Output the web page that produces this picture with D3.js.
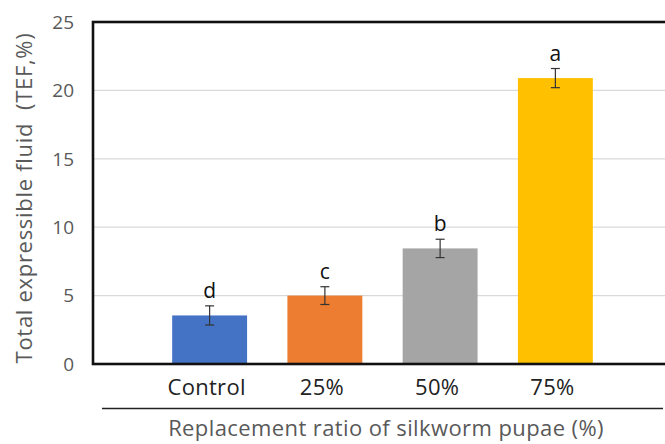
<!DOCTYPE html>
<html>
<head>
<meta charset="utf-8">
<script src="https://cdn.jsdelivr.net/npm/d3@7"></script>
<style>
  body { margin: 0; background: #fff; }
  svg { display: block; }
</style>
</head>
<body>
<div id="chart"></div>
<script>
// data
var categories = ["Control", "25%", "50%", "75%"];
var values = [3.55, 5.0, 8.45, 20.9];
var errors = [0.7, 0.65, 0.67, 0.7];
var letters = ["d", "c", "b", "a"];
var yTicks = [0, 5, 10, 15, 20, 25];
var colors = ["#4472C4", "#ED7D31", "#A5A5A5", "#FFC000"];

var width = 665, height = 444;
var frame = { left: 93, top: 22, right: 690, bottom: 364 };
var font = "Open Sans, sans-serif";

var svg = d3.select("#chart").append("svg")
    .attr("width", width)
    .attr("height", height);

var y = d3.scaleLinear()
    .domain([0, 25])
    .range([frame.bottom, frame.top]);

var x = d3.scaleBand()
    .domain(categories)
    .range([152, 613])
    .paddingInner(0.35)
    .paddingOuter(0.175);

// gridlines
svg.append("g")
    .selectAll("line")
    .data(yTicks.filter(d => d > 0 && d < 25))
    .join("line")
    .attr("x1", frame.left)
    .attr("x2", width)
    .attr("y1", d => y(d))
    .attr("y2", d => y(d))
    .attr("stroke", "#d9d9d9")
    .attr("stroke-width", 1.2);

// y tick labels
svg.append("g")
    .selectAll("text")
    .data(yTicks)
    .join("text")
    .attr("x", 74)
    .attr("y", d => y(d))
    .attr("dy", "0.36em")
    .attr("text-anchor", "end")
    .attr("font-family", font)
    .attr("font-size", 19)
    .attr("fill", "#595959")
    .text(d => d);

// bars
svg.append("g")
    .selectAll("rect")
    .data(categories)
    .join("rect")
    .attr("x", d => x(d))
    .attr("width", x.bandwidth())
    .attr("y", (d, i) => y(values[i]))
    .attr("height", (d, i) => y(0) - y(values[i]))
    .attr("fill", (d, i) => colors[i]);

// error bars
var eb = svg.append("g")
    .attr("stroke", "#333")
    .attr("stroke-width", 1.2);

categories.forEach(function(c, i) {
    var cx = x(c) + x.bandwidth() / 2;
    var top = y(values[i] + errors[i]), bot = y(values[i] - errors[i]);
    eb.append("line").attr("x1", cx).attr("x2", cx).attr("y1", top).attr("y2", bot);
    eb.append("line").attr("x1", cx - 4.5).attr("x2", cx + 4.5).attr("y1", top).attr("y2", top);
    eb.append("line").attr("x1", cx - 4.5).attr("x2", cx + 4.5).attr("y1", bot).attr("y2", bot);
});

// significance letters
svg.append("g")
    .selectAll("text")
    .data(categories)
    .join("text")
    .attr("x", d => x(d) + x.bandwidth() / 2)
    .attr("y", (d, i) => y(values[i] + errors[i]) - 8)
    .attr("text-anchor", "middle")
    .attr("font-family", font)
    .attr("font-size", 21)
    .attr("fill", "#111")
    .text((d, i) => letters[i]);

// frame (right side runs off the picture)
svg.append("rect")
    .attr("x", frame.left)
    .attr("y", frame.top)
    .attr("width", frame.right - frame.left)
    .attr("height", frame.bottom - frame.top)
    .attr("fill", "none")
    .attr("stroke", "#111")
    .attr("stroke-width", 2.6);

// category labels
svg.append("g")
    .selectAll("text")
    .data(categories)
    .join("text")
    .attr("x", d => x(d) + x.bandwidth() / 2 - 3)
    .attr("y", 395)
    .attr("text-anchor", "middle")
    .attr("font-family", font)
    .attr("font-size", 22)
    .attr("letter-spacing", 0.3)
    .attr("fill", "#222")
    .text(d => d);

// separator line under categories
svg.append("line")
    .attr("x1", 102)
    .attr("x2", 663)
    .attr("y1", 408.5)
    .attr("y2", 408.5)
    .attr("stroke", "#222")
    .attr("stroke-width", 1.4);

// axis titles
svg.append("text")
    .attr("x", 386)
    .attr("y", 436)
    .attr("text-anchor", "middle")
    .attr("font-family", font)
    .attr("font-size", 22)
    .attr("letter-spacing", 0.4)
    .attr("fill", "#595959")
    .text("Replacement ratio of silkworm pupae (%)");

svg.append("text")
    .attr("transform", "translate(32,198) rotate(-90)")
    .attr("text-anchor", "middle")
    .attr("font-family", font)
    .attr("font-size", 22)
    .attr("letter-spacing", 0.7)
    .attr("fill", "#595959")
    .style("white-space", "pre")
    .text("Total expressible fluid  (TEF,%)");
</script>
</body>
</html>
